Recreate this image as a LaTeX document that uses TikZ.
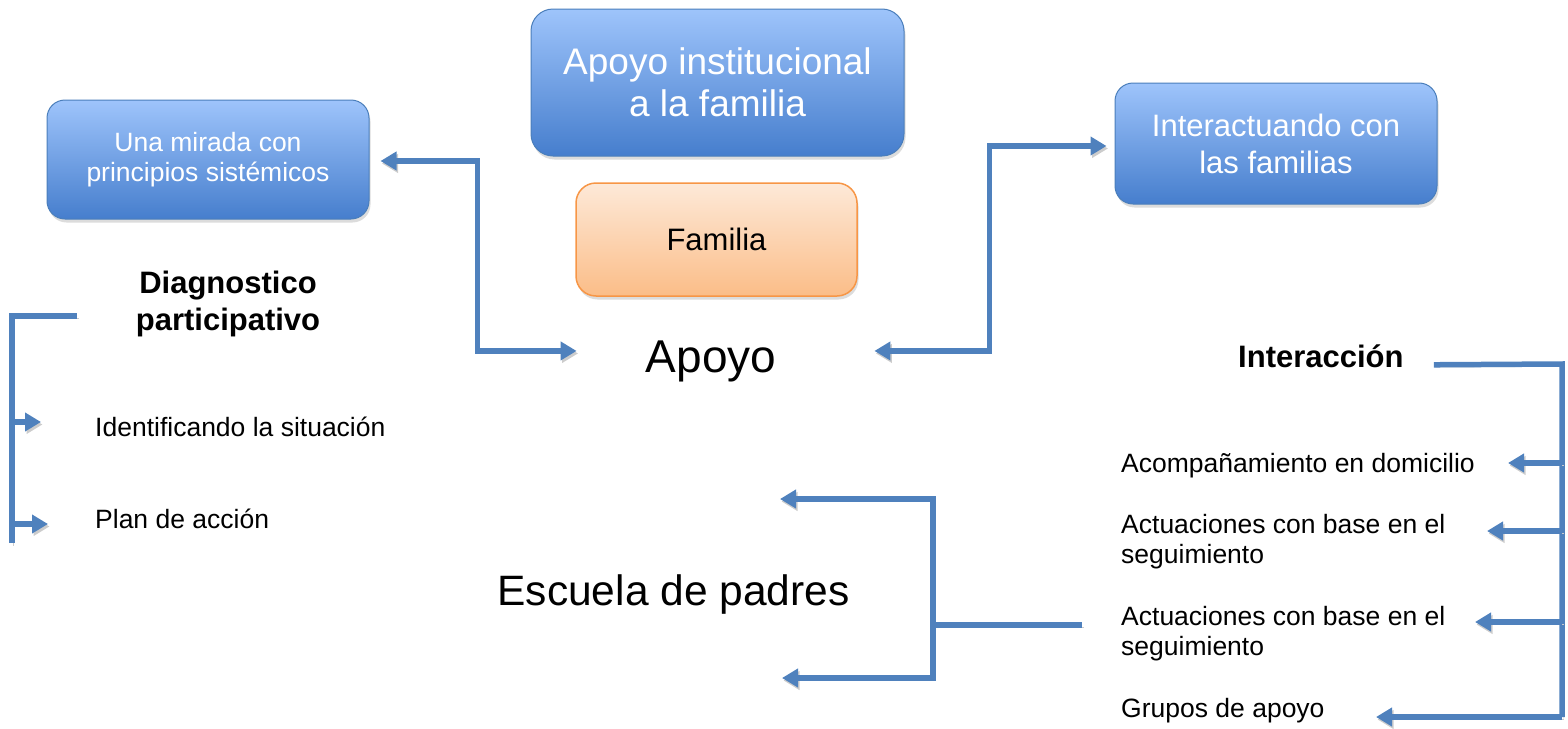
\documentclass[tikz,border=0pt]{standalone}
\usepackage{fontspec}
\setmainfont{Liberation Sans}
\usetikzlibrary{arrows.meta,shadows}
\definecolor{conn}{HTML}{4F81BD}
\definecolor{btop}{HTML}{9EC4FB}
\definecolor{bbot}{HTML}{467ECD}
\definecolor{bdraw}{HTML}{4A7EBB}
\definecolor{otop}{HTML}{FDE9D8}
\definecolor{obot}{HTML}{FBBD88}
\definecolor{odraw}{HTML}{F79646}
\begin{document}
\begin{tikzpicture}[x=1pt,y=-1pt,
  boxshadow/.style={drop shadow={opacity=0.28,shadow xshift=1.5pt,shadow yshift=-3.5pt}},
  bluebox/.style={draw=bdraw, line width=1pt, rounded corners=22pt, top color=btop, bottom color=bbot,
    text=white, align=center, inner sep=0pt, boxshadow},
  orangebox/.style={draw=odraw, line width=1.5pt, rounded corners=20pt, top color=otop, bottom color=obot,
    text=black, align=center, inner sep=0pt, boxshadow},
  plain/.style={inner sep=0pt, text=black},
  small/.style={plain, font=\fontsize{26.5}{30}\selectfont, align=left},
  lshadow/.style={preaction={draw=black!20, transform canvas={xshift=1.5pt,yshift=-2.5pt}}},
  link/.style={draw=conn, line width=5.5pt, line join=miter, lshadow},
  tip/.style={-{Triangle[length=16pt,width=18pt]}},
  dbl/.style={{Triangle[length=16pt,width=18pt]}-{Triangle[length=16pt,width=18pt]}},
]
\useasboundingbox (0,0) rectangle (1568,728);

% boxes
\node[bluebox, minimum width=373pt, minimum height=147pt, font=\fontsize{37}{42}\selectfont]
  (inst) at (717.5,82.5) {Apoyo institucional\\a la familia};
\node[bluebox, minimum width=322pt, minimum height=119pt, rounded corners=18pt, font=\fontsize{26.5}{30}\selectfont]
  (mirada) at (208,159.5) {Una mirada con\\principios sistémicos};
\node[bluebox, minimum width=322pt, minimum height=121pt, rounded corners=18pt, font=\fontsize{31}{37}\selectfont]
  (inter) at (1276,143.5) {Interactuando con\\las familias};
\node[orangebox, minimum width=281pt, minimum height=113pt, font=\fontsize{31}{36}\selectfont]
  (familia) at (716.5,239.5) {Familia};

% text labels
\node[plain, anchor=base, font=\fontsize{46}{50}\selectfont] (apoyo) at (711,372) {Apoyo};
\node[plain, anchor=base, font=\fontsize{42.5}{48}\selectfont] (escuela) at (673.5,605) {Escuela de padres};
\node[plain, anchor=north, align=center, font=\bfseries\fontsize{31}{37}\selectfont] (diag) at (228,270.5)
  {Diagnostico\\participativo};
\node[plain, anchor=base west, font=\bfseries\fontsize{31}{36}\selectfont] (interaccion) at (1238,367) {Interacción};
\node[small, anchor=base west] (ident) at (95,436) {Identificando la situación};
\node[small, anchor=base west] (plan) at (95,528) {Plan de acción};
\node[small, anchor=base west] (acomp) at (1121,472) {Acompañamiento en domicilio};
\node[small, anchor=north west] (act1) at (1121,514) {Actuaciones con base en el\\seguimiento};
\node[small, anchor=north west] (act2) at (1121,606) {Actuaciones con base en el\\seguimiento};
\node[small, anchor=base west] (grupos) at (1121,717) {Grupos de apoyo};

% centre connectors
\draw[link, dbl] ([xshift=11pt,yshift=-1.5pt]mirada.east) -- ++(97,0) |- ([xshift=-69pt,yshift=10pt]apoyo.west);
\draw[link, dbl] ([xshift=98pt,yshift=10pt]apoyo.east) -- ++(115,0) |- ([xshift=-8pt,yshift=-2.5pt]inter.west);

% escuela de padres bracket
\coordinate (escIn) at (1082,625);
\coordinate (escJ) at (933,625);
\coordinate (escUp) at (780,499);
\coordinate (escDn) at (782,678);
\draw[link] (escIn) -- (escJ);
\draw[link, tip] (escJ) |- (escUp);
\draw[link, tip] (escJ) |- (escDn);

% left bracket
\coordinate (lbTop) at (77,316);
\coordinate (lbCorner) at (12,316);
\coordinate (lbBot) at (12,543);
\coordinate (lt1) at (41,422);
\coordinate (lt2) at (48,524);
\draw[link] (lbTop) -- (lbCorner) -- (lbBot);
\draw[link, tip] (lbBot |- lt1) -- (lt1);
\draw[link, tip] (lbBot |- lt2) -- (lt2);

% right bracket
\coordinate (rbTop) at (1562,364);
\coordinate (rbBot) at (1562,717);
\coordinate (rt1) at (1508,463);
\coordinate (rt2) at (1487,531);
\coordinate (rt3) at (1475,622);
\coordinate (rt4) at (1376,717);
\draw[link] ([xshift=30pt,yshift=-9pt]interaccion.east) -- (rbTop) -- (rbBot);
\draw[link, tip] (rbTop |- rt1) -- (rt1);
\draw[link, tip] (rbTop |- rt2) -- (rt2);
\draw[link, tip] (rbTop |- rt3) -- (rt3);
\draw[link, tip] (rbBot) -- (rt4);
\end{tikzpicture}
\end{document}
